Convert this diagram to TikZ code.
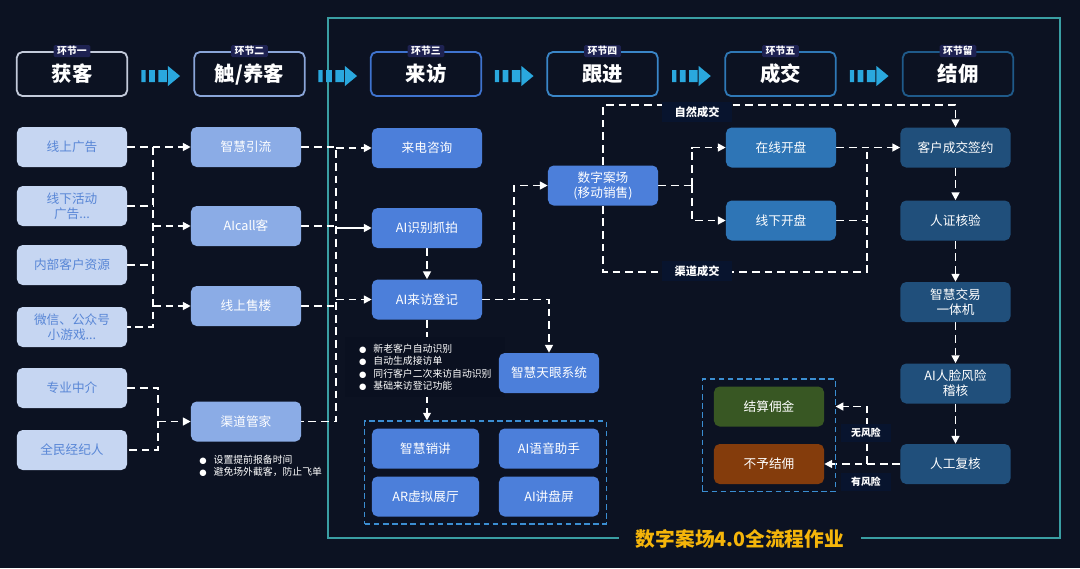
\documentclass[tikz,border=0pt]{standalone}
\usepackage{fontspec}
\setmainfont{Noto Sans CJK SC}
\newfontfamily\dotfont{DejaVu Sans}
\usetikzlibrary{arrows.meta,positioning,fit,calc}

\definecolor{bgnavy}{HTML}{0C1222}
\definecolor{framec}{HTML}{3A9EA3}
\definecolor{tabbg}{HTML}{1E2252}
\definecolor{hd1}{HTML}{C3CADA}
\definecolor{hd2}{HTML}{8AA5D8}
\definecolor{hd3}{HTML}{3F73CF}
\definecolor{hd4}{HTML}{3A86C8}
\definecolor{hd5}{HTML}{2F78B6}
\definecolor{hd6}{HTML}{1F5A8A}
\definecolor{arrcyan}{HTML}{2AA8DE}
\definecolor{srcfill}{HTML}{C6D6F2}
\definecolor{srctext}{HTML}{5886D6}
\definecolor{nurtfill}{HTML}{8BACE6}
\definecolor{visitfill}{HTML}{4C7FDA}
\definecolor{dealfill}{HTML}{2E75B6}
\definecolor{finfill}{HTML}{204F7B}
\definecolor{paygreen}{HTML}{385723}
\definecolor{paybrown}{HTML}{843C0C}
\definecolor{grpline}{HTML}{3B8ED2}
\definecolor{labbg}{HTML}{08142E}
\definecolor{notebg}{HTML}{0A1020}
\definecolor{titlec}{HTML}{F5B50A}

\newcommand{\blt}{{\dotfont\fontsize{6}{6}\selectfont ●}\hspace{5pt}}

\pgfdeclarelayer{sky}
\pgfdeclarelayer{wires}
\pgfsetlayers{sky,wires,main}

\begin{document}
\begin{tikzpicture}[x=0.025cm, y=-0.025cm,
  hdr/.style={draw, line width=1.3pt, rounded corners=4pt, minimum width=2.76cm, minimum height=1.1cm, text=white, font=\fontsize{14.5}{16}\selectfont\bfseries},
  tab/.style={fill=tabbg, rounded corners=1pt, inner xsep=2.5pt, inner ysep=1pt, text=white, font=\fontsize{7}{8}\selectfont\bfseries},
  box/.style={rounded corners=4pt, minimum width=2.75cm, minimum height=1cm, align=center, text=white, inner sep=1pt, font=\fontsize{9}{10.5}\selectfont},
  src/.style={box, fill=srcfill, text=srctext},
  nurt/.style={box, fill=nurtfill},
  visit/.style={box, fill=visitfill},
  deal/.style={box, fill=dealfill},
  fin/.style={box, fill=finfill},
  grp/.style={draw=grpline, dashed, line width=1pt, dash pattern=on 4pt off 2.5pt, inner sep=5pt},
  dline/.style={draw=white, line width=1.3pt, dash pattern=on 5.5pt off 3.5pt},
  darr/.style={dline, -{Triangle[length=5.5pt, width=5.5pt]}},
  lab/.style={fill=labbg, text=white, inner xsep=9pt, inner ysep=3pt, font=\fontsize{8}{9}\selectfont\bfseries},
  note/.style={text=white, align=left, inner sep=5pt, font=\fontsize{7}{8.7}\selectfont}]

\useasboundingbox (0,0) rectangle (1080,568);
\begin{pgfonlayer}{sky}
\fill[bgnavy] (0,0) rectangle (1080,568);
\draw[framec, line width=1.1pt] (328,18) rectangle (1060,538);
\end{pgfonlayer}

% stage headers
\node[hdr, draw=hd1] (h1) at (72,74) {获客};
\node[hdr, draw=hd2] (h2) at (249.5,74) {触/养客};
\node[hdr, draw=hd3] (h3) at (426,74) {来访};
\node[hdr, draw=hd4] (h4) at (602.5,74) {跟进};
\node[hdr, draw=hd5] (h5) at (780.5,74) {成交};
\node[hdr, draw=hd6] (h6) at (958,74) {结佣};
\foreach \h/\t in {h1/环节一, h2/环节二, h3/环节三, h4/环节四, h5/环节五, h6/环节留}
  \node[tab] (\h tab) at (\h.north) {\t};
\foreach \a/\b in {h1/h2, h2/h3, h3/h4, h4/h5, h5/h6}
  \fill[arrcyan, shift={($(\a.east)!0.5!(\b.west)+(0,2)$)}]
    (-19.3,-6) rectangle (-15.2,6) (-11.7,-6) rectangle (-5.9,6)
    (-2.5,-6) rectangle (6.2,6) (7.2,-10) -- (19.3,0) -- (7.2,10) -- cycle;

% 获客
\node[src] (s1) at (72,147) {线上广告};
\node[src] (s2) at (72,206) {线下活动\\广告...};
\node[src] (s3) at (72,265) {内部客户资源};
\node[src] (s4) at (72,327) {微信、公众号\\小游戏...};
\node[src] (s5) at (72,388) {专业中介};
\node[src] (s6) at (72,450) {全民经纪人};

% 触/养客
\node[nurt] (c1) at (246,147) {智慧引流};
\node[nurt] (c2) at (246,226) {AIcall客};
\node[nurt] (c3) at (246,306) {线上售楼};
\node[nurt] (c4) at (246,421.5) {渠道管家};
\node[note, anchor=north west] (tips) at (192,448) {\blt 设置提前报备时间\\\blt 避免场外截客，防止飞单};

% 来访
\node[visit] (v1) at (427,148) {来电咨询};
\node[visit] (v2) at (427,228) {AI识别抓拍};
\node[visit] (v3) at (427,299.5) {AI来访登记};
\node[note, fill=notebg, anchor=north west, minimum width=4cm, minimum height=1.4cm] (visitnote) at (345,337)
  {\blt 新老客户自动识别\\\blt 自动生成接访单\\\blt 同行客户二次来访自动识别\\\blt 基础来访登记功能};
\node[visit, minimum width=2.5cm] (eye) at (549,373) {智慧天眼系统};
\node[visit, minimum width=2.675cm] (t1) at (425.5,448.5) {智慧销讲};
\node[visit, minimum width=2.5cm] (t2) at (549,448.5) {AI语音助手};
\node[visit, minimum width=2.675cm] (t3) at (425.5,496.5) {AR虚拟展厅};
\node[visit, minimum width=2.5cm] (t4) at (549,496.5) {AI讲盘屏};
\node[grp, fit=(t1)(t4)] (tools) {};

% 跟进
\node[visit] (d1) at (603,185.5) {数字案场\\(移动销售)};

% 成交
\node[deal] (k1) at (781,147.5) {在线开盘};
\node[deal] (k2) at (781,220.5) {线下开盘};

% 结佣
\node[fin] (g1) at (955.5,147.5) {客户成交签约};
\node[fin] (g2) at (955.5,220.5) {人证核验};
\node[fin] (g3) at (955.5,302) {智慧交易\\一体机};
\node[fin] (g4) at (955.5,383.5) {AI人脸风险\\稽核};
\node[fin] (g5) at (955.5,464) {人工复核};
\node[box, fill=paygreen] (p1) at (769,406.5) {结算佣金};
\node[box, fill=paybrown] (p2) at (769,464) {不予结佣};
\node[grp, fit=(p1)(p2), inner xsep=8pt] (pay) {};

\coordinate (busA) at (153,0);
\coordinate (busB) at (158,0);
\coordinate (busC) at (336,0);
\coordinate (busD) at (514,0);
\coordinate (busE) at (692,0);
\coordinate (busF) at (867,0);
\coordinate (topY) at (0,105);
\coordinate (botY) at (0,272);

\begin{pgfonlayer}{wires}
% sources -> nurture
\draw[darr] (s1) -- (c1);
\draw[dline] (s1.east -| busA) |- (s4.east);
\draw[dline] (s2.east) -- (s2.east -| busA);
\draw[dline] (s3.east) -- (s3.east -| busA);
\draw[darr] (c2.west -| busA) -- (c2);
\draw[darr] (c3.west -| busA) -- (c3);
\draw[dline] (s5.east) -| (busB |- s6.east) -- (s6.east);
\draw[darr] (c4.west -| busB) -- (c4);
% nurture -> visit
\draw[dline] (c1.east) -| (busC |- c4.east) -- (c4.east);
\draw[dline] (c2.east) -- (c2.east -| busC);
\draw[dline] (c3.east) -- (c3.east -| busC);
\draw[darr] (busC |- v1.west) -- (v1);
\draw[white, line width=1.3pt, -{Triangle[length=5.5pt, width=5.5pt]}] (busC |- v2.west) -- (v2);
\draw[darr] (busC |- v3.west) -- (v3);
\draw[darr] (v2) -- (v3);
\draw[darr] (v3) -- (v3.south |- tools.north);
\draw[darr] (v3.east) -| (busD |- d1.west) -- (d1.west);
\draw[darr] (v3.east) -| (eye.north);
% follow-up -> deal
\draw[dline] (d1.east) -- (d1.east -| busE);
\draw[darr] (d1.east -| busE) |- (k1.west);
\draw[darr] (d1.east -| busE) |- (k2.west);
\draw[darr] (d1.north) -- (d1.north |- topY) -| (g1.north);
\draw[dline] (d1.south) |- (busF |- botY) -- (busF |- k1.east);
\draw[darr] (k1) -- (g1);
\draw[dline] (k2.east) -- (k2.east -| busF);
% commission
\draw[darr] (g1) -- (g2);
\draw[darr] (g2) -- (g3);
\draw[darr] (g3) -- (g4);
\draw[darr] (g4) -- (g5);
\draw[darr] (g5) -- (p2);
\draw[darr, shorten >=8pt] (busF |- g5.west) |- (p1.east);
\end{pgfonlayer}

\node[lab] (natural) at (697,112) {自然成交};
\node[lab] (channel) at (697,271) {渠道成交};
\node[lab, inner xsep=7pt, font=\fontsize{7}{8}\selectfont\bfseries] (norisk) at (866,433) {无风险};
\node[lab, inner xsep=7pt, font=\fontsize{7}{8}\selectfont\bfseries] (risk) at (866,482) {有风险};
\node[fill=bgnavy, inner xsep=12pt, inner ysep=5pt, text=titlec, font=\fontsize{14}{16}\selectfont\bfseries] (title) at (740,539) {数字案场4.0全流程作业};
\end{tikzpicture}
\end{document}
